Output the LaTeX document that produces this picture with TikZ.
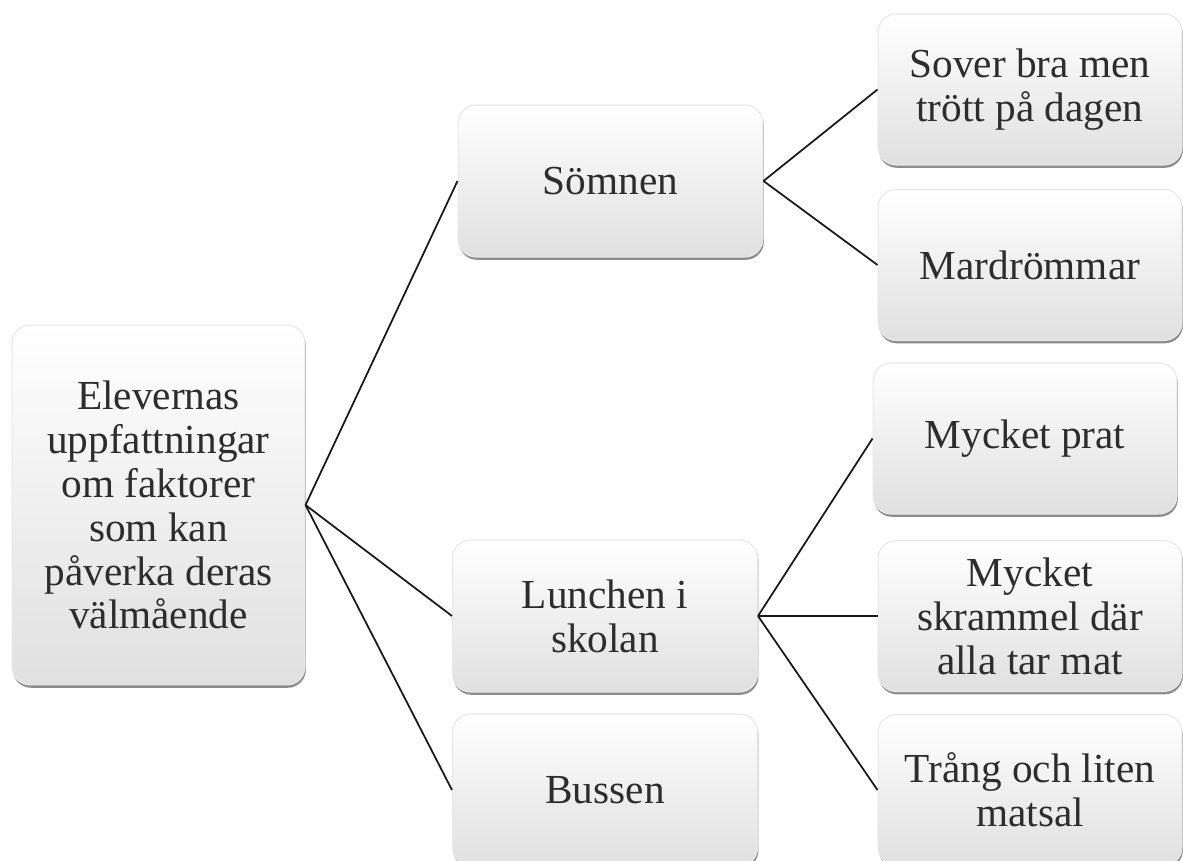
\documentclass[tikz,border=0pt]{standalone}
\usepackage{fontspec}
\setmainfont{Liberation Serif}
\usetikzlibrary{shadows}
\definecolor{boxtext}{RGB}{45,45,45}
\definecolor{boxgrey}{RGB}{224,224,224}
\tikzset{
  box/.style={
    rounded corners=0.36cm,
    top color=white,
    middle color=white!96!boxgrey,
    bottom color=boxgrey,
    draw=black!9,
    line width=0.6pt,
    text=boxtext,
    align=center,
    inner sep=2pt,
    font=\fontsize{23.5}{25}\selectfont,
    drop shadow={shadow xshift=0.5pt, shadow yshift=-1.6pt, opacity=0.45, fill=black}
  },
  box-root/.style={box, minimum width=5.86cm, minimum height=7.2cm},
  box-mid/.style={box, minimum width=6.1cm, minimum height=3.04cm},
  box-leaf/.style={box, minimum width=6.08cm, minimum height=3.02cm},
  link/.style={line width=1pt, draw=black!90}
}

\begin{document}
\begin{tikzpicture}[x=0.02cm, y=-0.02cm]
  \useasboundingbox (0,0) rectangle (1183,861);
  % Root box
  \node[box-root] (root) at (158.5,505)
    {Elevernas\\uppfattningar\\om faktorer\\som kan\\påverka deras\\välmående};
  % Middle level
  \node[box-mid] (somnen) at (610.5,181) {Sömnen};
  \node[box-mid] (lunchen) at (605,616) {Lunchen i\\skolan};
  \node[box-mid] (bussen) at (605,790) {Bussen};
  % Leaves
  \node[box-leaf] (sover) at (1030,89.5) {Sover bra men\\trött på dagen};
  \node[box-leaf] (mardrom) at (1030,265) {Mardrömmar};
  \node[box-leaf] (prat) at (1025,438.5) {Mycket prat};
  \node[box-leaf] (skrammel) at (1030,616) {Mycket\\skrammel där\\alla tar mat};
  \node[box-leaf] (trang) at (1030,790) {Trång och liten\\matsal};
  % Connectors
  \draw[link] (root.east) -- (somnen.west);
  \draw[link] (root.east) -- (lunchen.west);
  \draw[link] (root.east) -- (bussen.west);
  \draw[link] (somnen.east) -- (sover.west);
  \draw[link] (somnen.east) -- (mardrom.west);
  \draw[link] (lunchen.east) -- (prat.west);
  \draw[link] (lunchen.east) -- (skrammel.west);
  \draw[link] (lunchen.east) -- (trang.west);
\end{tikzpicture}
\end{document}
